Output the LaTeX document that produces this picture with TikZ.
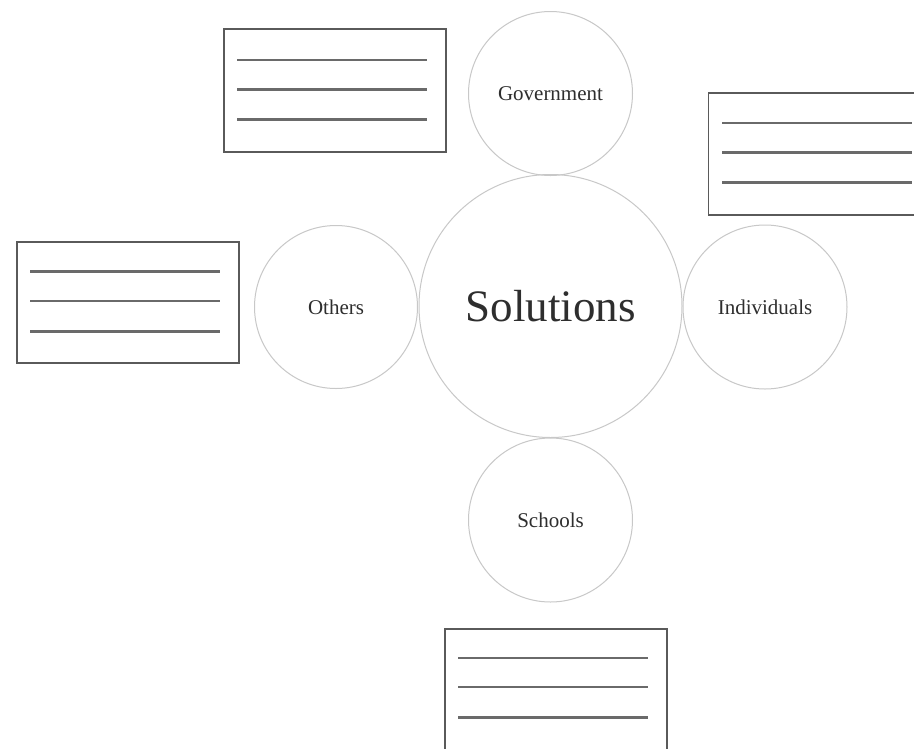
\documentclass[tikz,border=0pt]{standalone}
\usepackage{fontspec}
\setmainfont{Liberation Serif}
\definecolor{circgray}{HTML}{C8C8C8}
\definecolor{boxgray}{HTML}{5A5A5A}
\definecolor{linegray}{HTML}{6A6A6A}
\definecolor{txtgray}{HTML}{2E2E2E}
\begin{document}
\begin{tikzpicture}[x=1pt,y=-1pt,
  bubble/.style={circle,draw=circgray,line width=1pt,inner sep=0pt,text=txtgray,font=\fontsize{21}{24}\selectfont},
  notebox/.style={rectangle,draw=boxgray,line width=1.8pt,inner sep=0pt,fill=white},
  noteline/.style={draw=linegray,line width=2.4pt}]
\useasboundingbox (0,0) rectangle (914,748);
\clip (0,0) rectangle (914,748);
\fill[white] (0,0) rectangle (914,748);
% circles
\node[bubble,minimum size=263pt,font=\fontsize{45}{50}\selectfont] (sol) at (550.5,306) {Solutions};
\node[bubble,minimum size=164pt] (gov) at (550.5,93.5) {Government};
\node[bubble,minimum size=163pt] (oth) at (336,307) {Others};
\node[bubble,minimum size=164pt] (ind) at (765,307) {Individuals};
\node[bubble,minimum size=164pt] (sch) at (550.5,520) {Schools};
% note boxes
\draw[draw=boxgray,line width=1.8pt] (224,29) rectangle (446,152);
\draw[noteline] (237,60) -- (427,60);
\draw[noteline] (237,89.5) -- (427,89.5);
\draw[noteline] (237,119.5) -- (427,119.5);
\draw[draw=boxgray,line width=1.8pt] (708.5,93) rectangle (925,215);
\draw[noteline] (722,123) -- (912,123);
\draw[noteline] (722,152.5) -- (912,152.5);
\draw[noteline] (722,182.5) -- (912,182.5);
\draw[draw=boxgray,line width=1.8pt] (17,242) rectangle (239,363);
\draw[noteline] (30,271.5) -- (220,271.5);
\draw[noteline] (30,301) -- (220,301);
\draw[noteline] (30,331.5) -- (220,331.5);
\draw[draw=boxgray,line width=1.8pt] (445,629) rectangle (667,760);
\draw[noteline] (458,658) -- (648,658);
\draw[noteline] (458,687) -- (648,687);
\draw[noteline] (458,717.5) -- (648,717.5);
\end{tikzpicture}
\end{document}
